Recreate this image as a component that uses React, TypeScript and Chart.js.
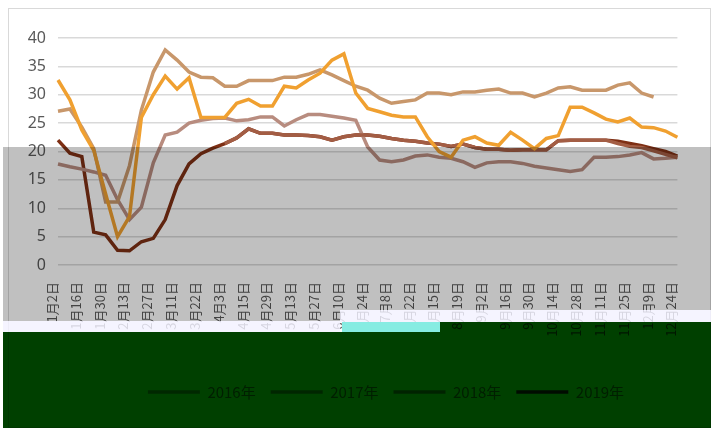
import React, { useEffect, useRef } from 'react';
import { Chart, registerables } from 'chart.js';

Chart.register(...registerables);

// Weekly categories; only every other one is labelled on the axis.
const categories = [
  '1月2日', '1月9日', '1月16日', '1月23日', '1月30日', '2月6日', '2月13日', '2月20日', '2月27日', '3月4日',
  '3月11日', '3月16日', '3月22日', '3月28日', '4月3日', '4月9日', '4月15日', '4月22日', '4月29日', '5月6日',
  '5月13日', '5月20日', '5月27日', '6月3日', '6月10日', '6月17日', '6月24日', '7月1日', '7月8日', '7月15日',
  '7月22日', '8月1日', '8月15日', '8月17日', '8月19日', '8月26日', '9月2日', '9月9日', '9月16日', '9月23日',
  '9月30日', '10月7日', '10月14日', '10月21日', '10月28日', '11月4日', '11月11日', '11月18日', '11月25日', '12月2日',
  '12月9日', '12月16日', '12月24日',
];

const seriesNames = ['2016年', '2017年', '2018年', '2019年', '2020年'];

const orange = [
  32.6, 29.1, 23.8, 20.2, 12.5, 5.0, 8.5, 26.0, 30.0, 33.3,
  31.0, 33.0, 26.0, 26.0, 26.0, 28.5, 29.2, 28.0, 28.0, 31.5,
  31.2, 32.6, 33.8, 36.1, 37.2, 30.3, 27.6, 27.0, 26.4, 26.1,
  26.1, 22.6, 20.0, 19.0, 22.0, 22.6, 21.5, 21.1, 23.4, 22.0,
  20.5, 22.3, 22.8, 27.8, 27.8, 26.8, 25.7, 25.2, 25.9, 24.3,
  24.2, 23.6, 22.5,
];

const tan = [
  27.1, 27.5, 24.3, 20.5, 11.1, 11.1, 17.5, 27.3, 34.0, 37.9,
  36.1, 34.0, 33.1, 33.0, 31.5, 31.5, 32.5, 32.5, 32.5, 33.1,
  33.1, 33.6, 34.4, 33.5, 32.5, 31.5, 30.8, 29.4, 28.5, 28.8,
  29.1, 30.3, 30.3, 30.0, 30.5, 30.5, 30.8, 31.0, 30.3, 30.3,
  29.6, 30.3, 31.2, 31.4, 30.8, 30.8, 30.8, 31.7, 32.1, 30.3,
  29.6, null, null,
];

const mauve = [
  17.8, 17.3, 16.9, 16.4, 15.8, 11.5, 8.0, 10.2, 18.0, 22.9,
  23.4, 25.0, 25.5, 25.8, 25.9, 25.4, 25.6, 26.1, 26.1, 24.5,
  25.6, 26.5, 26.5, 26.2, 25.9, 25.5, 20.8, 18.5, 18.2, 18.5,
  19.2, 19.4, 19.0, 18.8, 18.2, 17.2, 18.0, 18.2, 18.2, 17.9,
  17.4, 17.1, 16.8, 16.5, 16.8, 19.0, 19.0, 19.1, 19.4, 19.8,
  18.7, 18.8, 19.0,
];

const darkBrown = [
  22.0, 19.7, 19.1, 5.8, 5.3, 2.6, 2.5, 4.1, 4.7, 8.0,
  14.0, 17.8, 19.6, 20.6, 21.4, 22.4, 24.0, 23.2, 23.2, 22.9,
  22.9, 22.8, 22.6, 22.0, 22.6, 22.9, 22.9, 22.7, 22.3, 22.0,
  21.8, 21.5, 21.3, 20.9, 21.3, 20.7, 20.4, 20.4, 20.2, 20.3,
  20.3, 20.3, 21.9, 22.0, 22.0, 22.0, 22.0, 21.8, 21.4, 21.0,
  20.5, 20.0, 19.2,
];

const mediumBrown = [
  null, null, null, null, null, null, null, null, null, null,
  null, null, null, null, 21.4, 22.4, 24.0, 23.2, 23.2, 22.9,
  22.9, 22.8, 22.6, 22.0, 22.6, 22.9, 22.9, 22.7, 22.3, 22.0,
  21.8, 21.5, 21.3, 20.9, 21.3, 20.7, 20.4, 20.4, 20.2, 20.3,
  20.3, 20.3, 21.9, 22.0, 22.0, 22.0, 22.0, 21.4, 20.9, 20.7,
  20.1, 19.5, 18.9,
];

const yMin = 0;
const yMax = 40;
const yStep = 5;

const colors = ['#F0A030', '#C8976B', '#B88C7F', '#7E2F14', '#A35D44'];

export default function App() {
  const ref = useRef<HTMLCanvasElement>(null);

  useEffect(() => {
    if (!ref.current) return;
    const shiftLegend = {
      id: 'shiftLegend',
      afterLayout(chart: any) {
        const l = chart.legend;
        if (l) {
          l.left += 31;
          l.right += 31;
        }
      },
    };
    const series = [orange, tan, mauve, darkBrown, mediumBrown];
    const drawOrder = [0, 1, 3, 4, 2];
    const chart = new Chart(ref.current, {
      type: 'line',
      data: {
        labels: categories,
        datasets: series.map((data, i) => ({
          label: seriesNames[i],
          data,
          borderColor: colors[i],
          backgroundColor: colors[i],
          borderWidth: 3.5,
          pointRadius: 0,
          tension: 0,
          fill: false,
          order: drawOrder[i],
        })),
      },
      options: {
        responsive: false,
        animation: false,
        layout: { padding: { left: 19, right: 28, top: 29, bottom: 17.5 } },
        plugins: {
          legend: {
            position: 'bottom',
            labels: {
              usePointStyle: true,
              pointStyle: 'line',
              pointStyleWidth: 52,
              boxHeight: 15,
              padding: 15,
              color: '#7a7a7a',
              font: { family: '"Noto Sans CJK SC", sans-serif', size: 15 },
              filter: (item: any) => item.datasetIndex !== 4,
            },
          },
          tooltip: { enabled: false },
        },
        scales: {
          x: {
            grid: { display: false, drawTicks: false },
            border: { display: false },
            ticks: {
              autoSkip: false,
              minRotation: 90,
              maxRotation: 90,
              padding: 17,
              labelOffset: -6,
              color: '#595959',
              font: { family: '"Noto Sans CJK SC", sans-serif', size: 13 },
              callback: (_v: any, i: number) => (i % 2 === 0 ? categories[i] : ''),
            },
            afterFit: (s: any) => {
              s.height = 104.5;
            },
          },
          y: {
            min: yMin,
            max: yMax,
            ticks: {
              stepSize: yStep,
              padding: 12,
              color: '#595959',
              font: { family: '"Noto Sans", sans-serif', size: 16 },
            },
            grid: { color: '#d9d9d9', lineWidth: 1.5, drawTicks: false },
            border: { display: false },
            afterFit: (s: any) => {
              s.width = 30;
            },
          },
        },
      },
      plugins: [shiftLegend],
    } as any);
    return () => chart.destroy();
  }, []);

  const abs = (left: number, top: number, width: number, height: number, extra: React.CSSProperties) => (
    <div style={{ position: 'absolute', left, top, width, height, pointerEvents: 'none', ...extra }} />
  );
  const mult = { mixBlendMode: 'multiply' as const };

  return (
    <div>
      <div
        style={{
          position: 'absolute',
          left: 8,
          top: 8,
          width: 703,
          height: 420,
          boxSizing: 'border-box',
          border: '1px solid #d9d9d9',
          background: '#ffffff',
        }}
      >
        <canvas ref={ref} width={701} height={418} style={{ display: 'block' }} />
      </div>
      {abs(3, 147, 337, 174, { background: '#c0c0c0', ...mult })}
      {abs(340, 147, 371, 163, { background: '#c0c0c0', ...mult })}
      {abs(3, 321, 337, 11, { background: 'rgba(243,241,255,0.82)' })}
      {abs(340, 310, 371, 12, { background: 'rgba(243,241,255,0.82)' })}
      {abs(342, 322, 98, 10, { background: '#86ece2' })}
      {abs(3, 332, 708, 96, { background: '#004000', ...mult })}
      {abs(440, 322, 271, 10, { background: '#004000', ...mult })}
    </div>
  );
}
